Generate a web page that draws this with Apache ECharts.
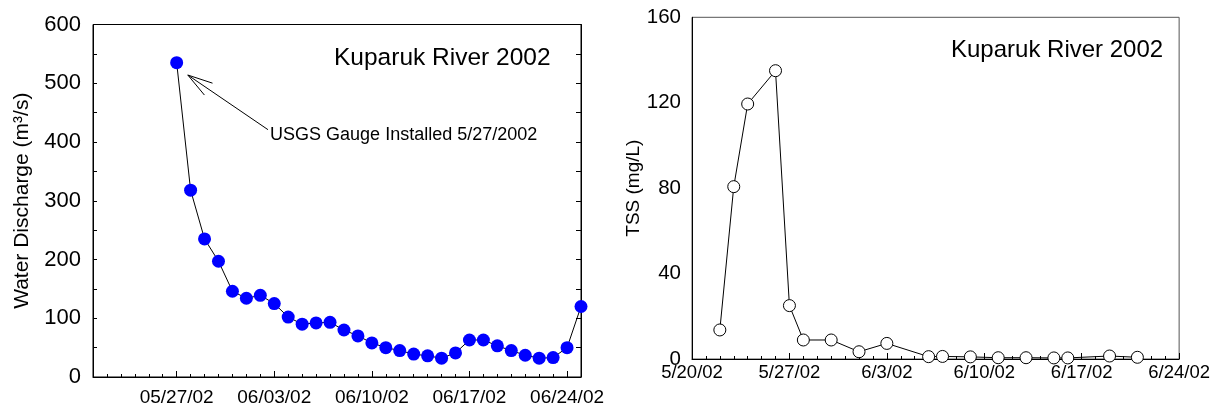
<!DOCTYPE html>
<html>
<head>
<meta charset="utf-8">
<script src="https://cdn.jsdelivr.net/npm/echarts@6/dist/echarts.min.js"></script>
<style>
  html, body { margin: 0; padding: 0; background: #fff; }
  #box { width: 1213px; height: 411px; }
</style>
</head>
<body>
<div id="box"></div>
<script>
var chart = echarts.init(document.getElementById('box'));

// Kuparuk River 2002 - water discharge (m3/s), daily
var qDates = ['2002-05-27', '2002-05-28', '2002-05-29', '2002-05-30', '2002-05-31',
  '2002-06-01', '2002-06-02', '2002-06-03', '2002-06-04', '2002-06-05', '2002-06-06',
  '2002-06-07', '2002-06-08', '2002-06-09', '2002-06-10', '2002-06-11', '2002-06-12',
  '2002-06-13', '2002-06-14', '2002-06-15', '2002-06-16', '2002-06-17', '2002-06-18',
  '2002-06-19', '2002-06-20', '2002-06-21', '2002-06-22', '2002-06-23', '2002-06-24',
  '2002-06-25'];
var qValues = [535, 318, 235, 197, 146, 134, 139, 125, 102, 90, 92, 93, 80, 70, 58,
  50, 45, 39, 36, 32, 41, 63, 63, 53, 45, 37, 32, 33, 50, 120];

// Kuparuk River 2002 - TSS (mg/L)
var tssDates = ['2002-05-22', '2002-05-23', '2002-05-24', '2002-05-26', '2002-05-27',
  '2002-05-28', '2002-05-30', '2002-06-01', '2002-06-03', '2002-06-06', '2002-06-07',
  '2002-06-09', '2002-06-11', '2002-06-13', '2002-06-15', '2002-06-16', '2002-06-19',
  '2002-06-21'];
var tssValues = [13.6, 80.7, 119.4, 135, 25, 8.9, 8.9, 3.4, 7.3, 1.1, 1.2, 1.0, 0.6,
  0.6, 0.5, 0.5, 1.4, 0.8];

// tick labels (dates)
var leftMajor = ['2002-05-27', '2002-06-03', '2002-06-10', '2002-06-17', '2002-06-24'];
var leftRange = ['2002-05-21', '2002-06-25'];
var rightRange = ['2002-05-20', '2002-06-24'];

var titleText = 'Kuparuk River 2002';
var noteText = 'USGS Gauge Installed 5/27/2002';

var DAY = 86400000;
var ORIGIN = Date.UTC(2002, 4, 20);
function dayOf(s) {
  var p = s.split('-');
  return Math.round((Date.UTC(+p[0], +p[1] - 1, +p[2]) - ORIGIN) / DAY);
}
function dateOf(d) {
  return new Date(ORIGIN + Math.round(d) * DAY);
}
function pad(n) { return n < 10 ? '0' + n : '' + n; }

var qData = qDates.map(function(d, i) { return [dayOf(d), qValues[i]]; });
var tssData = tssDates.map(function(d, i) { return [dayOf(d), tssValues[i]]; });

var allLeftDays = [];
for (var d = dayOf(leftRange[0]); d <= dayOf(leftRange[1]); d++) allLeftDays.push(d);
var leftMajorDays = leftMajor.map(dayOf);

var FONT = 'Liberation Sans';

var option = {
  animation: false,
  textStyle: { fontFamily: FONT },
  grid: [
    { left: 93, top: 24.5, width: 488, height: 352.5, show: true, borderColor: '#000', borderWidth: 1 },
    { left: 692, top: 17.3, width: 489, height: 341.7, show: true, borderColor: '#555', borderWidth: 1 }
  ],
  xAxis: [
    {
      gridIndex: 0, type: 'value', position: 'bottom',
      min: dayOf(leftRange[0]), max: dayOf(leftRange[1]),
      axisLine: { lineStyle: { color: '#000', width: 1 } },
      axisTick: { inside: true, length: 6, customValues: leftMajorDays, lineStyle: { color: '#000' } },
      axisLabel: {
        customValues: leftMajorDays, margin: 11,
        fontSize: 19, color: '#000', fontFamily: FONT,
        formatter: function(v) {
          var t = dateOf(v);
          return pad(t.getUTCMonth() + 1) + '/' + pad(t.getUTCDate()) + '/02';
        }
      },
      splitLine: { show: false }
    },
    {
      gridIndex: 0, type: 'value', position: 'bottom',
      min: dayOf(leftRange[0]), max: dayOf(leftRange[1]),
      axisLine: { show: false },
      axisTick: { inside: true, length: 3, customValues: allLeftDays, lineStyle: { color: '#000' } },
      axisLabel: { show: false },
      splitLine: { show: false }
    },
    {
      gridIndex: 1, type: 'value', position: 'bottom',
      min: dayOf(rightRange[0]), max: dayOf(rightRange[1]), interval: 7,
      axisLine: { lineStyle: { color: '#000', width: 1 } },
      axisTick: { inside: true, length: 6, lineStyle: { color: '#000' } },
      minorTick: { show: true, splitNumber: 7, length: 3, lineStyle: { color: '#000' } },
      axisLabel: {
        margin: 4, fontSize: 18.5, color: '#000', fontFamily: FONT,
        formatter: function(v) {
          var t = dateOf(v);
          return (t.getUTCMonth() + 1) + '/' + t.getUTCDate() + '/02';
        }
      },
      splitLine: { show: false }
    }
  ],
  yAxis: [
    {
      gridIndex: 0, type: 'value', min: 0, max: 600, interval: 100, position: 'left',
      name: 'Water Discharge (m³/s)', nameLocation: 'middle', nameGap: 60,
      nameTextStyle: { fontSize: 21, color: '#000', fontFamily: FONT },
      axisLine: { show: true, lineStyle: { color: '#000' } },
      axisTick: { inside: true, length: 4, lineStyle: { color: '#000' } },
      minorTick: { show: true, splitNumber: 2, length: 4, lineStyle: { color: '#000' } },
      axisLabel: { fontSize: 22, color: '#000', margin: 12, fontFamily: FONT },
      splitLine: { show: false }
    },
    {
      gridIndex: 0, type: 'value', min: 0, max: 600, interval: 100, position: 'right',
      axisLine: { show: true, lineStyle: { color: '#000' } },
      axisTick: { inside: true, length: 5, lineStyle: { color: '#000' } },
      minorTick: { show: true, splitNumber: 2, length: 5, lineStyle: { color: '#000' } },
      axisLabel: { show: false },
      splitLine: { show: false }
    },
    {
      gridIndex: 1, type: 'value', min: 0, max: 160, interval: 40, position: 'left',
      name: 'TSS (mg/L)', nameLocation: 'middle', nameGap: 47,
      nameTextStyle: { fontSize: 19, color: '#000', fontFamily: FONT },
      axisLine: { show: true, lineStyle: { color: '#000' } },
      axisTick: { show: false },
      axisLabel: { fontSize: 20.5, color: '#000', margin: 11, fontFamily: FONT },
      splitLine: { show: false }
    }
  ],
  series: [
    {
      type: 'line', xAxisIndex: 0, yAxisIndex: 0, data: qData,
      symbol: 'circle', symbolSize: 13,
      itemStyle: { color: '#0000ff' },
      lineStyle: { color: '#000', width: 1 }
    },
    {
      type: 'line', xAxisIndex: 2, yAxisIndex: 2, data: tssData,
      symbol: 'circle', symbolSize: 12,
      itemStyle: { color: '#fff', borderColor: '#000', borderWidth: 1 },
      lineStyle: { color: '#000', width: 1 }
    }
  ]
};
chart.setOption(option);

// titles and annotation (arrow positioned in data space)
var tip = chart.convertToPixel({ gridIndex: 0 }, [dayOf('2002-05-27') + 0.8, 514]);
var tail = chart.convertToPixel({ gridIndex: 0 }, [dayOf('2002-05-27') + 6.55, 421]);
var ang = Math.atan2(tail[1] - tip[1], tail[0] - tip[0]);
var hl = 26, ha = 0.28;
var h1 = [tip[0] + hl * Math.cos(ang - ha), tip[1] + hl * Math.sin(ang - ha)];
var h2 = [tip[0] + hl * Math.cos(ang + ha), tip[1] + hl * Math.sin(ang + ha)];
var notePos = chart.convertToPixel({ gridIndex: 0 }, [dayOf('2002-05-27') + 6.7, 412]);

chart.setOption({
  graphic: [
    { type: 'text', left: 334, top: 46, style: { text: titleText, font: '24.5px "Liberation Sans"', fill: '#000' } },
    { type: 'text', left: 951, top: 38, style: { text: titleText, font: '24px "Liberation Sans"', fill: '#000' } },
    { type: 'text', x: notePos[0], y: notePos[1], style: { text: noteText, font: '18px "Liberation Sans"', fill: '#000', verticalAlign: 'middle' } },
    { type: 'line', shape: { x1: tail[0], y1: tail[1], x2: tip[0], y2: tip[1] }, style: { stroke: '#000', lineWidth: 1 } },
    { type: 'polyline', shape: { points: [h1, tip, h2] }, style: { stroke: '#000', lineWidth: 1, fill: null } }
  ]
});
</script>
</body>
</html>
